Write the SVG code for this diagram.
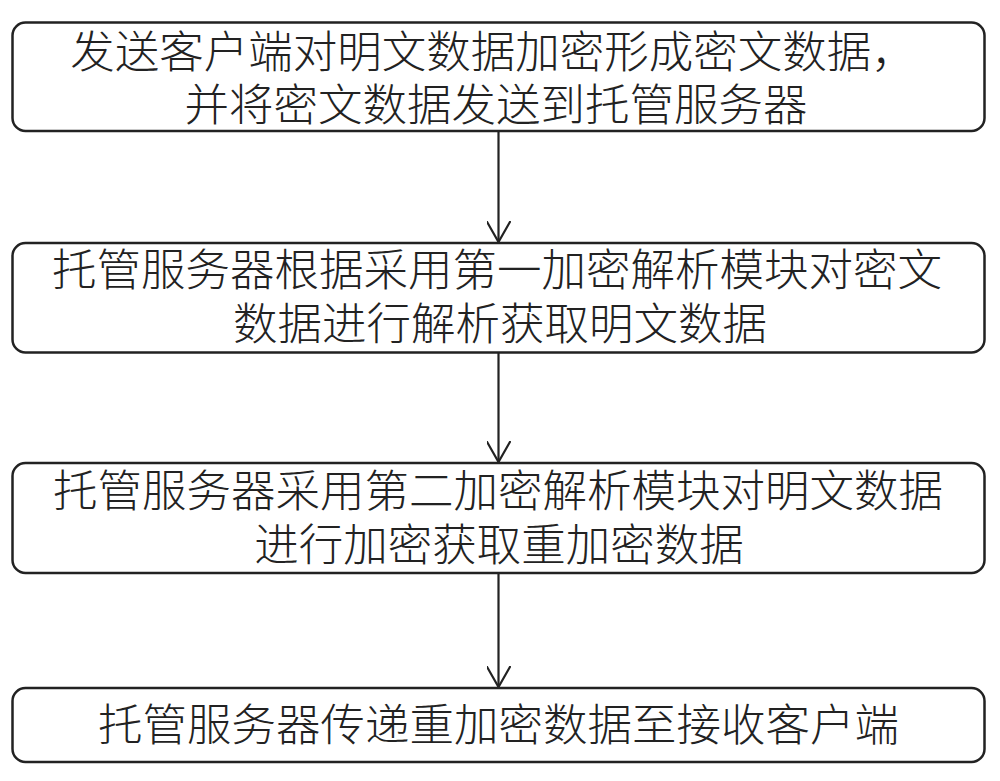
<svg xmlns="http://www.w3.org/2000/svg" width="1000" height="781" viewBox="0 0 1000 781">
<style>
.box{fill:#ffffff;stroke:#222222;stroke-width:2.5}
.t{font-family:"Liberation Sans","Noto Sans CJK SC","Noto Sans CJK JP",sans-serif;font-size:44.5px;font-weight:300;fill:#222222;text-anchor:middle;dominant-baseline:central}
.c{fill:none;stroke:#222222;stroke-width:2.2}
</style>
<defs>
<marker id="ah" viewBox="0 0 22 24" refX="21" refY="12" markerWidth="22" markerHeight="24" markerUnits="userSpaceOnUse" orient="auto">
<path d="M0,0 L21,12 L0,24" fill="none" stroke="#222222" stroke-width="2.2"/>
</marker>
</defs>
<rect x="0" y="0" width="1000" height="781" fill="#ffffff"/>
<g id="connectors">
<line class="c" x1="498.5" y1="131" x2="498.5" y2="242" marker-end="url(#ah)"/>
<line class="c" x1="498.5" y1="353" x2="498.5" y2="462" marker-end="url(#ah)"/>
<line class="c" x1="498.5" y1="573" x2="498.5" y2="687" marker-end="url(#ah)"/>
</g>
<g id="n1">
<rect class="box" x="12.5" y="22.5" width="972" height="108.5" rx="13"/>
<text class="t"><tspan x="493" y="52">发送客户端对明文数据加密形成密文数据，</tspan><tspan x="496" y="105">并将密文数据发送到托管服务器</tspan></text>
</g>
<g id="n2">
<rect class="box" x="12.5" y="243" width="972" height="109.5" rx="13"/>
<text class="t"><tspan x="497" y="270">托管服务器根据采用第一加密解析模块对密文</tspan><tspan x="500" y="324">数据进行解析获取明文数据</tspan></text>
</g>
<g id="n3">
<rect class="box" x="12.5" y="463" width="972" height="110" rx="13"/>
<text class="t"><tspan x="498" y="491">托管服务器采用第二加密解析模块对明文数据</tspan><tspan x="499" y="545">进行加密获取重加密数据</tspan></text>
</g>
<g id="n4">
<rect class="box" x="12.5" y="688" width="972" height="74" rx="13"/>
<text class="t" x="498.5" y="725">托管服务器传递重加密数据至接收客户端</text>
</g>
</svg>
